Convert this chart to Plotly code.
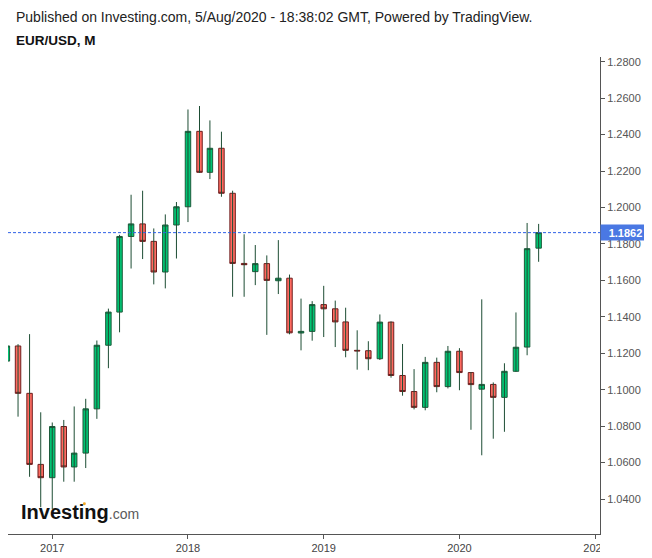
import plotly.graph_objects as go

months = ["2016-09-01", "2016-10-01", "2016-11-01", "2016-12-01",
          "2017-01-01", "2017-02-01", "2017-03-01", "2017-04-01", "2017-05-01", "2017-06-01",
          "2017-07-01", "2017-08-01", "2017-09-01", "2017-10-01", "2017-11-01", "2017-12-01",
          "2018-01-01", "2018-02-01", "2018-03-01", "2018-04-01", "2018-05-01", "2018-06-01",
          "2018-07-01", "2018-08-01", "2018-09-01", "2018-10-01", "2018-11-01", "2018-12-01",
          "2019-01-01", "2019-02-01", "2019-03-01", "2019-04-01", "2019-05-01", "2019-06-01",
          "2019-07-01", "2019-08-01", "2019-09-01", "2019-10-01", "2019-11-01", "2019-12-01",
          "2020-01-01", "2020-02-01", "2020-03-01", "2020-04-01", "2020-05-01", "2020-06-01",
          "2020-07-01", "2020-08-01"]

open_ = [1.1157, 1.1240, 1.0980, 1.0590,
         1.0517, 1.0798, 1.0576, 1.0652, 1.0895, 1.1244,
         1.1426, 1.1841, 1.1910, 1.1814, 1.1646, 1.1904,
         1.2004, 1.2418, 1.2193, 1.2325, 1.2078, 1.1693,
         1.1648, 1.1692, 1.1598, 1.1612, 1.1311, 1.1320,
         1.1467, 1.1444, 1.1372, 1.1216, 1.1214, 1.1170,
         1.1371, 1.1078, 1.0990, 1.0903, 1.1150, 1.1017,
         1.1211, 1.1094, 1.1003, 1.1029, 1.0958, 1.1101,
         1.1234, 1.1777]
high = [1.1327, 1.1250, 1.1305, 1.0876,
        1.0820, 1.0834, 1.0908, 1.0950, 1.1270, 1.1445,
        1.1850, 1.2070, 1.2092, 1.1885, 1.1962, 1.2030,
        1.2538, 1.2557, 1.2478, 1.2416, 1.2092, 1.1853,
        1.1794, 1.1737, 1.1821, 1.1632, 1.1500, 1.1486,
        1.1570, 1.1489, 1.1450, 1.1326, 1.1266, 1.1413,
        1.1375, 1.1251, 1.1113, 1.1180, 1.1176, 1.1240,
        1.1228, 1.1097, 1.1496, 1.1040, 1.1145, 1.1424,
        1.1915, 1.1910]
low = [1.1123, 1.0852, 1.0522, 1.0355,
       1.0345, 1.0495, 1.0495, 1.0570, 1.0840, 1.1118,
       1.1315, 1.1665, 1.1717, 1.1578, 1.1556, 1.1720,
       1.1920, 1.2190, 1.2156, 1.2059, 1.1510, 1.1510,
       1.1574, 1.1301, 1.1525, 1.1304, 1.1216, 1.1269,
       1.1289, 1.1234, 1.1178, 1.1110, 1.1107, 1.1163,
       1.1066, 1.0967, 1.0892, 1.0887, 1.0986, 1.1007,
       1.0997, 1.0780, 1.0640, 1.0731, 1.0769, 1.1098,
       1.1189, 1.1702]
close = [1.1240, 1.0980, 1.0590, 1.0517,
         1.0798, 1.0576, 1.0652, 1.0895, 1.1244, 1.1426,
         1.1841, 1.1910, 1.1814, 1.1646, 1.1904, 1.2004,
         1.2418, 1.2193, 1.2325, 1.2078, 1.1693, 1.1686,
         1.1692, 1.1600, 1.1612, 1.1312, 1.1320, 1.1467,
         1.1444, 1.1372, 1.1216, 1.1213, 1.1170, 1.1371,
         1.1078, 1.0990, 1.0903, 1.1150, 1.1017, 1.1211,
         1.1094, 1.1028, 1.1029, 1.0958, 1.1101, 1.1233,
         1.1774, 1.1862]

price_ticks = [1.04, 1.06, 1.08, 1.10, 1.12, 1.14, 1.16, 1.18, 1.20, 1.22, 1.24, 1.26, 1.28]
year_ticks = ["2017-01-01", "2018-01-01", "2019-01-01", "2020-01-01", "2021-01-01"]
year_labels = ["2017", "2018", "2019", "2020", "2021"]

FONT = "Liberation Sans, Arial, sans-serif"

# wicks (drawn underneath the bodies)
wx, wy = [], []
for m, lo, hi in zip(months, low, high):
    wx += [m, m, None]
    wy += [lo, hi, None]

body_hi = [max(o, c) for o, c in zip(open_, close)]
body_lo = [min(o, c) for o, c in zip(open_, close)]

fig = go.Figure()
fig.add_trace(go.Scatter(x=wx, y=wy, mode="lines",
                         line=dict(color="#1d4d34", width=1),
                         hoverinfo="skip", showlegend=False))
fig.add_trace(go.Candlestick(
    x=months, open=open_, high=body_hi, low=body_lo, close=close,
    increasing=dict(fillcolor="#00c473", line=dict(color="#1d5a3a", width=1)),
    decreasing=dict(fillcolor="#ff6a60", line=dict(color="#6e1e1e", width=1)),
    whiskerwidth=0, showlegend=False, hoverinfo="skip"))

last = close[-1]
fig.add_shape(type="line", xref="paper", x0=0, x1=1, yref="y", y0=last, y1=last,
              line=dict(color="#2f62e6", width=1, dash="3px,2px"), layer="above")
# clip the cut-off last year label like the original
fig.add_shape(type="rect", xref="paper", yref="paper", x0=1.0, x1=1.06, y0=-0.06, y1=-0.013,
              fillcolor="white", line=dict(width=0), layer="above")

fig.add_annotation(xref="paper", yref="y", x=1, y=last, xanchor="left", yanchor="middle",
                   text="<b>%.4f</b>" % last, showarrow=False, bgcolor="#4a78e3",
                   font=dict(family=FONT, size=11, color="white"),
                   width=47, height=13, borderpad=1, align="center")

fig.add_annotation(xref="paper", yref="paper", x=0.0101, y=1.0839, xanchor="left", yanchor="middle",
                   text="Published on Investing.com, 5/Aug/2020 - 18:38:02 GMT, Powered by TradingView.",
                   showarrow=False, font=dict(family=FONT, size=14, color="#222222"))
fig.add_annotation(xref="paper", yref="paper", x=0.0101, y=1.0356, xanchor="left", yanchor="middle",
                   text="<b>EUR/USD, M</b>", showarrow=False,
                   font=dict(family=FONT, size=13.5, color="#111111"))
fig.add_annotation(xref="paper", yref="paper", x=0.0186, y=0.046, xanchor="left", yanchor="middle",
                   text="<b>Investing</b><span style='font-size:14px;color:#5a5a5a'>.com</span>",
                   showarrow=False, font=dict(family=FONT, size=20, color="#111111"))
# orange dot of the logo
fig.add_shape(type="circle", xref="paper", yref="paper",
              x0=0.1265, x1=0.1315, y0=0.0605, y1=0.0665,
              fillcolor="#f5a623", line=dict(width=0), layer="above")

fig.update_layout(
    width=644, height=550,
    margin=dict(l=0, r=52, t=49, b=24),
    paper_bgcolor="white", plot_bgcolor="white",
    showlegend=False, hovermode=False,
    boxgap=0.25, boxgroupgap=0.3,
    font=dict(family=FONT, size=11, color="#4c4c4c"),
    xaxis=dict(type="date", range=["2016-09-04", "2021-01-13"],
               rangeslider=dict(visible=False),
               tickmode="array", tickvals=year_ticks, ticktext=year_labels,
               showgrid=False, zeroline=False, showline=True, linecolor="#555555", linewidth=1,
               ticks="outside", ticklen=4, tickcolor="#555555",
               tickfont=dict(family=FONT, size=11, color="#444444")),
    yaxis=dict(side="right", range=[1.0208, 1.2826],
               tickmode="array", tickvals=price_ticks, tickformat=".4f",
               showgrid=False, zeroline=False, showline=True, linecolor="#555555", linewidth=1,
               ticks="outside", ticklen=4, tickcolor="#555555",
               tickfont=dict(family=FONT, size=11, color="#555555")),
)

fig.write_html("out.html")
